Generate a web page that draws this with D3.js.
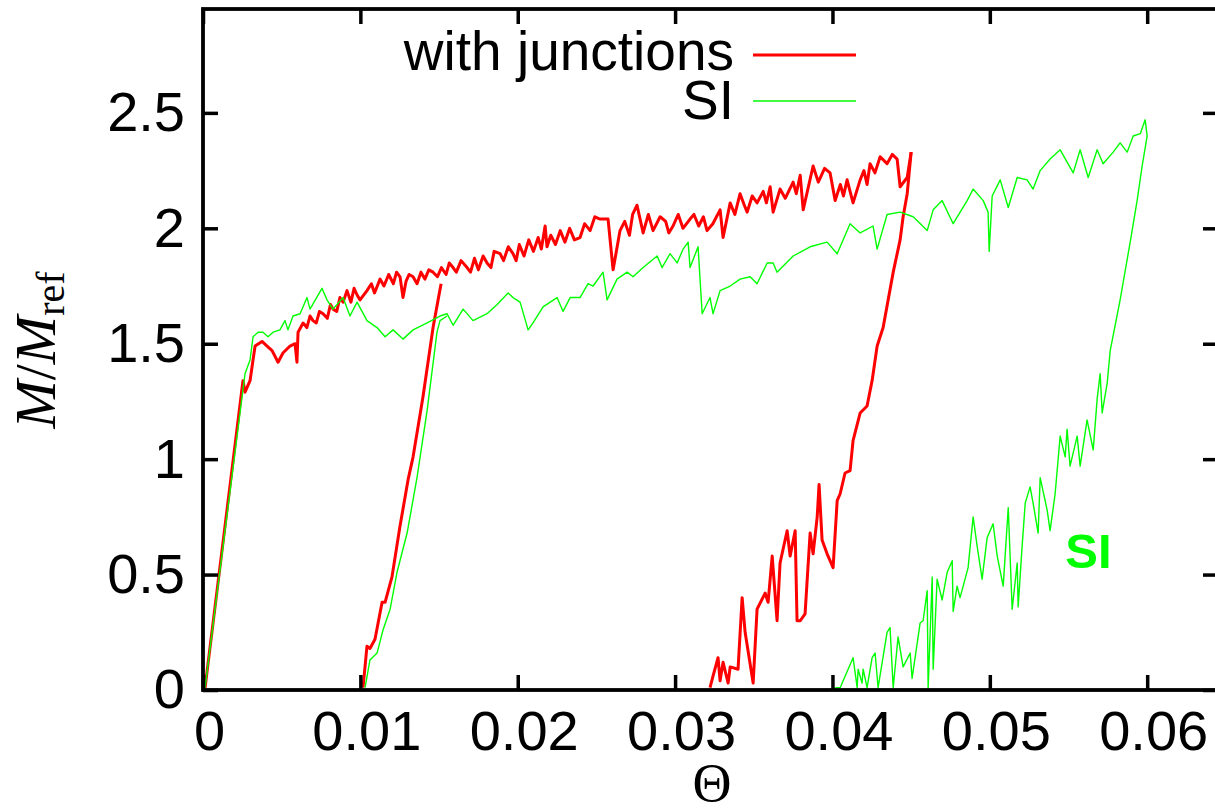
<!DOCTYPE html>
<html>
<head>
<meta charset="utf-8">
<script src="https://cdnjs.cloudflare.com/ajax/libs/d3/7.8.5/d3.min.js"></script>
<style>
  body { margin: 0; background: #fff; }
  .tick text { font-family: "Liberation Sans", Arial, sans-serif; font-size: 56px; fill: #000; }
</style>
</head>
<body>
<div id="chart"></div>
<script>
// tick values / labels
var thetaTicks = [0, 0.01, 0.02, 0.03, 0.04, 0.05, 0.06];
var thetaLabels = ["0", "0.01", "0.02", "0.03", "0.04", "0.05", "0.06"];
var mTicks = [0, 0.5, 1, 1.5, 2, 2.5];
var mLabels = ["0", "0.5", "1", "1.5", "2", "2.5"];
var seriesNames = ["with junctions", "SI"];

// "with junctions" : first loading, then two reloadings  [theta, M/Mref]
var redLoad = [[0.00013,0.01],[0.00254,1.34],[0.00267,1.29],[0.00299,1.34],[0.00318,1.43],[0.00331,1.49],
  [0.00375,1.51],[0.00407,1.49],[0.00439,1.47],[0.00477,1.42],[0.00508,1.46],[0.00553,1.49],[0.00585,1.50],
  [0.00597,1.42],[0.00604,1.55],[0.00636,1.59],[0.00660,1.57],[0.00680,1.62],[0.00699,1.60],[0.00720,1.59],
  [0.00740,1.64],[0.00763,1.63],[0.00790,1.61],[0.00810,1.67],[0.00826,1.65],[0.00850,1.64],[0.00870,1.70],
  [0.00890,1.68],[0.00915,1.73],[0.00940,1.68],[0.00960,1.74],[0.00980,1.71],[0.00998,1.69],[0.01042,1.73],
  [0.01070,1.76],[0.01090,1.72],[0.01125,1.78],[0.01150,1.75],[0.01180,1.80],[0.01210,1.76],[0.01230,1.81],
  [0.01252,1.79],[0.01271,1.70],[0.01290,1.77],[0.01310,1.80],[0.01335,1.79],[0.01360,1.76],[0.01385,1.81],
  [0.01410,1.78],[0.01435,1.82],[0.01462,1.81],[0.01490,1.79],[0.01515,1.83],[0.01545,1.80],[0.01565,1.85],
  [0.01589,1.83],[0.01610,1.81],[0.01640,1.86],[0.01678,1.83],[0.01700,1.81],[0.01725,1.87],[0.01750,1.82],
  [0.01780,1.88],[0.01805,1.85],[0.01830,1.83],[0.01850,1.90],[0.01888,1.89],[0.01910,1.86],[0.01940,1.92],
  [0.01970,1.89],[0.01990,1.86],[0.02010,1.93],[0.02040,1.88],[0.02070,1.95],[0.02100,1.90],[0.02130,1.96],
  [0.02150,1.91],[0.02174,2.01],[0.02186,1.92],[0.02210,1.97],[0.02240,1.93],[0.02270,1.99],[0.02300,1.94],
  [0.02330,2.00],[0.02360,1.95],[0.02396,1.96],[0.02425,2.02],[0.02460,1.99],[0.02490,2.05],[0.02523,2.04],
  [0.02574,2.04],[0.02606,1.82],[0.02650,1.99],[0.02680,2.03],[0.02710,1.97],[0.02730,2.06],[0.02758,2.10],
  [0.02797,1.98],[0.02830,2.06],[0.02860,1.99],[0.02905,2.05],[0.02940,2.03],[0.02960,1.98],[0.02987,2.01],
  [0.03020,2.06],[0.03050,2.00],[0.03095,2.04],[0.03120,2.06],[0.03150,2.01],[0.03180,2.05],[0.03203,1.99],
  [0.03240,2.02],[0.03286,2.08],[0.03305,1.96],[0.03350,2.11],[0.03380,2.06],[0.03413,2.15],[0.03440,2.10],
  [0.03458,2.07],[0.03490,2.14],[0.03521,2.11],[0.03560,2.16],[0.03580,2.11],[0.03604,2.18],[0.03623,2.07],
  [0.03667,2.17],[0.03700,2.13],[0.03750,2.20],[0.03770,2.15],[0.03795,2.23],[0.03814,2.08],[0.03877,2.27],
  [0.03910,2.20],[0.03950,2.26],[0.03985,2.24],[0.04017,2.12],[0.04050,2.19],[0.04070,2.14],[0.04093,2.21],
  [0.04131,2.11],[0.04176,2.21],[0.04200,2.25],[0.04220,2.19],[0.04239,2.28],[0.04270,2.24],[0.04303,2.31],
  [0.04347,2.28],[0.04380,2.32],[0.04411,2.30],[0.04430,2.18],[0.04475,2.22],[0.04500,2.33]];
var redReload1 = [[0.01017,0.01],[0.01042,0.19],[0.01061,0.18],[0.01093,0.22],[0.01138,0.38],[0.01157,0.38],
  [0.01201,0.49],[0.01252,0.71],[0.01303,0.91],[0.01335,1.01],[0.01398,1.27],[0.01462,1.57],[0.01494,1.69],
  [0.01513,1.76]];
var redReload2 = [[0.03222,0.01],[0.03241,0.06],[0.03273,0.14],[0.03286,0.04],[0.03305,0.12],[0.03337,0.03],
  [0.03350,0.10],[0.03400,0.09],[0.03426,0.40],[0.03445,0.25],[0.03496,0.03],[0.03521,0.35],[0.03572,0.42],
  [0.03591,0.38],[0.03617,0.58],[0.03648,0.30],[0.03667,0.55],[0.03712,0.69],[0.03731,0.58],[0.03763,0.69],
  [0.03775,0.30],[0.03795,0.30],[0.03826,0.33],[0.03858,0.68],[0.03877,0.59],[0.03903,0.75],[0.03915,0.89],
  [0.03934,0.65],[0.03966,0.59],[0.04004,0.53],[0.04030,0.82],[0.04049,0.85],[0.04080,0.94],[0.04112,0.95],
  [0.04131,1.08],[0.04176,1.20],[0.04220,1.23],[0.04252,1.34],[0.04284,1.49],[0.04322,1.57],[0.04354,1.69],
  [0.04386,1.81],[0.04430,1.95],[0.04449,2.05],[0.04475,2.15],[0.04500,2.33]];

// "SI"
var greenLoad = [[0.00013,0.01],[0.00267,1.37],[0.00299,1.43],[0.00318,1.53],[0.00350,1.55],[0.00381,1.55],
  [0.00413,1.53],[0.00445,1.55],[0.00489,1.56],[0.00521,1.60],[0.00540,1.56],[0.00572,1.62],[0.00617,1.63],
  [0.00661,1.70],[0.00680,1.65],[0.00756,1.74],[0.00788,1.69],[0.00826,1.65],[0.00890,1.70],[0.00934,1.62],
  [0.00979,1.68],[0.01042,1.60],[0.01106,1.57],[0.01157,1.53],[0.01208,1.56],[0.01271,1.52],[0.01335,1.56],
  [0.01424,1.59],[0.01506,1.62],[0.01551,1.63],[0.01589,1.58],[0.01653,1.65],[0.01716,1.60],[0.01805,1.63],
  [0.01869,1.67],[0.01939,1.72],[0.01970,1.70],[0.02015,1.68],[0.02066,1.56],[0.02097,1.59],[0.02161,1.66],
  [0.02250,1.70],[0.02288,1.64],[0.02333,1.70],[0.02396,1.70],[0.02447,1.76],[0.02479,1.75],[0.02542,1.81],
  [0.02568,1.69],[0.02631,1.78],[0.02695,1.81],[0.02733,1.79],[0.02797,1.83],[0.02886,1.88],[0.02917,1.83],
  [0.02968,1.89],[0.03013,1.85],[0.03051,1.91],[0.03083,1.94],[0.03095,1.83],[0.03146,1.92],[0.03172,1.63],
  [0.03222,1.70],[0.03241,1.63],[0.03286,1.73],[0.03350,1.75],[0.03413,1.78],[0.03477,1.79],[0.03521,1.76],
  [0.03585,1.85],[0.03623,1.85],[0.03648,1.81],[0.03750,1.88],[0.03858,1.92],[0.03966,1.94],[0.04030,1.89],
  [0.04112,2.02],[0.04176,1.98],[0.04258,2.01],[0.04284,1.91],[0.04347,2.06],[0.04430,2.07],[0.04513,2.05],
  [0.04602,1.99],[0.04640,2.08],[0.04697,2.12],[0.04767,2.02],[0.04856,2.12],[0.04894,2.17],[0.04958,2.12],
  [0.04989,2.07],[0.04996,1.90],[0.05015,2.14],[0.05066,2.21],[0.05117,2.09],[0.05174,2.22],[0.05237,2.21],
  [0.05275,2.17],[0.05320,2.25],[0.05383,2.30],[0.05447,2.34],[0.05530,2.24],[0.05574,2.34],[0.05625,2.22],
  [0.05682,2.34],[0.05720,2.28],[0.05784,2.33],[0.05828,2.37],[0.05873,2.33],[0.05911,2.40],[0.05956,2.41],
  [0.05987,2.47],[0.06000,2.40]];
var greenReload1 = [[0.01030,0.01],[0.01061,0.13],[0.01106,0.16],[0.01144,0.26],[0.01189,0.35],[0.01233,0.51],
  [0.01297,0.68],[0.01360,0.92],[0.01424,1.21],[0.01487,1.55],[0.01506,1.60],[0.01551,1.62]];
var greenReload2 = [[0.04017,0.01],[0.04049,0.01],[0.04131,0.14],[0.04157,0.01],[0.04163,0.09],[0.04188,0.03],
  [0.04195,0.09],[0.04220,0.01],[0.04252,0.14],[0.04271,0.16],[0.04290,0.01],[0.04347,0.25],[0.04366,0.27],
  [0.04386,0.01],[0.04417,0.23],[0.04449,0.10],[0.04494,0.16],[0.04506,0.05],[0.04557,0.29],[0.04576,0.30],
  [0.04602,0.43],[0.04608,0.01],[0.04634,0.49],[0.04640,0.09],[0.04665,0.48],[0.04697,0.39],[0.04729,0.51],
  [0.04761,0.56],[0.04767,0.34],[0.04792,0.45],[0.04811,0.40],[0.04862,0.53],[0.04894,0.75],[0.04920,0.62],
  [0.04951,0.48],[0.04983,0.66],[0.05021,0.72],[0.05047,0.58],[0.05085,0.45],[0.05117,0.79],[0.05142,0.35],
  [0.05174,0.55],[0.05180,0.36],[0.05205,0.62],[0.05225,0.81],[0.05256,0.88],[0.05275,0.81],[0.05307,0.68],
  [0.05320,0.92],[0.05364,0.78],[0.05383,0.69],[0.05415,0.85],[0.05447,1.10],[0.05479,1.01],[0.05491,1.13],
  [0.05510,0.97],[0.05555,1.10],[0.05574,0.97],[0.05618,1.17],[0.05657,1.04],[0.05682,1.26],[0.05701,1.37],
  [0.05714,1.20],[0.05746,1.33],[0.05765,1.47],[0.05828,1.69],[0.05892,1.94],[0.05936,2.12],[0.05968,2.27],
  [0.06000,2.40]];

function build(width, height) {

    var left = 203, right = 1218, top = 9, bottom = 690;

    var svg = d3.select("#chart").append("svg")
        .attr("width", width)
        .attr("height", height);

    var x = d3.scaleLinear().domain([0, 0.0645]).range([left, right]);
    var y = d3.scaleLinear().domain([0, 2.95]).range([bottom, top]);

    var line = d3.line()
        .x(function (d) { return x(d[0]); })
        .y(function (d) { return y(d[1]); });

    // clip the curves to the frame
    svg.append("clipPath").attr("id", "plotclip")
        .append("rect")
        .attr("x", left).attr("y", top)
        .attr("width", right - left).attr("height", bottom - top);

    var curves = svg.append("g").attr("clip-path", "url(#plotclip)");

    // red first, green drawn over it
    [redLoad, redReload1, redReload2].forEach(function (s) {
        curves.append("path").datum(s)
            .attr("d", line)
            .attr("fill", "none")
            .attr("stroke", "#ff0000")
            .attr("stroke-width", 3)
            .attr("stroke-linejoin", "round");
    });
    [greenLoad, greenReload1, greenReload2].forEach(function (s) {
        curves.append("path").datum(s)
            .attr("d", line)
            .attr("fill", "none")
            .attr("stroke", "#00ff00")
            .attr("stroke-width", 1.4)
            .attr("stroke-linejoin", "round");
    });

    // axes, gnuplot style: ticks pointing inside on all four sides
    var ax = svg.append("g").attr("transform", "translate(0," + bottom + ")")
        .call(d3.axisBottom(x).tickValues(thetaTicks)
            .tickFormat(function (d, i) { return thetaLabels[i]; })
            .tickSizeInner(-15).tickSizeOuter(0).tickPadding(20));
    ax.selectAll(".tick text").attr("dx", 6);

    svg.append("g").attr("transform", "translate(0," + top + ")")
        .call(d3.axisTop(x).tickValues(thetaTicks).tickFormat("")
            .tickSizeInner(-15).tickSizeOuter(0));

    svg.append("g").attr("transform", "translate(" + left + ",0)")
        .call(d3.axisLeft(y).tickValues(mTicks)
            .tickFormat(function (d, i) { return mLabels[i]; })
            .tickSizeInner(-15).tickSizeOuter(0).tickPadding(18));

    svg.append("g").attr("transform", "translate(" + right + ",0)")
        .call(d3.axisRight(y).tickValues(mTicks).tickFormat("")
            .tickSizeInner(-15).tickSizeOuter(0));

    svg.selectAll(".domain").remove();
    svg.selectAll(".tick line").attr("stroke", "#000").attr("stroke-width", 3.5);

    // frame
    svg.append("rect")
        .attr("x", left).attr("y", top)
        .attr("width", right - left).attr("height", bottom - top)
        .attr("fill", "none")
        .attr("stroke", "#000")
        .attr("stroke-width", 3.8);

    // legend
    var legend = [
        { name: seriesNames[0], color: "#ff0000", w: 3, ty: 70, ly: 55 },
        { name: seriesNames[1], color: "#00ff00", w: 1.4, ty: 119, ly: 101 }
    ];
    legend.forEach(function (l) {
        svg.append("text")
            .attr("x", 734).attr("y", l.ty)
            .attr("text-anchor", "end")
            .style("font-family", "'Liberation Sans', Arial, sans-serif")
            .style("font-size", "55px")
            .text(l.name);
        svg.append("line")
            .attr("x1", 753).attr("x2", 856)
            .attr("y1", l.ly).attr("y2", l.ly)
            .attr("stroke", l.color)
            .attr("stroke-width", l.w);
    });

    // green label inside the plot
    svg.append("text")
        .attr("x", x(0.0548)).attr("y", y(0.53))
        .style("font-family", "'Liberation Sans', Arial, sans-serif")
        .style("font-size", "49px")
        .style("font-weight", "bold")
        .attr("fill", "#00ff00")
        .text("SI");

    // axis titles
    svg.append("text")
        .attr("x", 712).attr("y", 801)
        .attr("text-anchor", "middle")
        .style("font-family", "'Liberation Serif', 'Times New Roman', serif")
        .style("font-size", "54px")
        .text("\u0398");

    var yt = svg.append("text")
        .attr("transform", "translate(55,350) rotate(-90)")
        .attr("text-anchor", "middle")
        .style("font-family", "'Liberation Serif', 'Times New Roman', serif")
        .style("font-size", "58px");
    yt.append("tspan").style("font-style", "italic").text("M");
    yt.append("tspan").text("/");
    yt.append("tspan").style("font-style", "italic").text("M");
    yt.append("tspan").attr("dy", 9).style("font-size", "40px").text("ref");
}

build(1215, 810);
</script>
</body>
</html>
